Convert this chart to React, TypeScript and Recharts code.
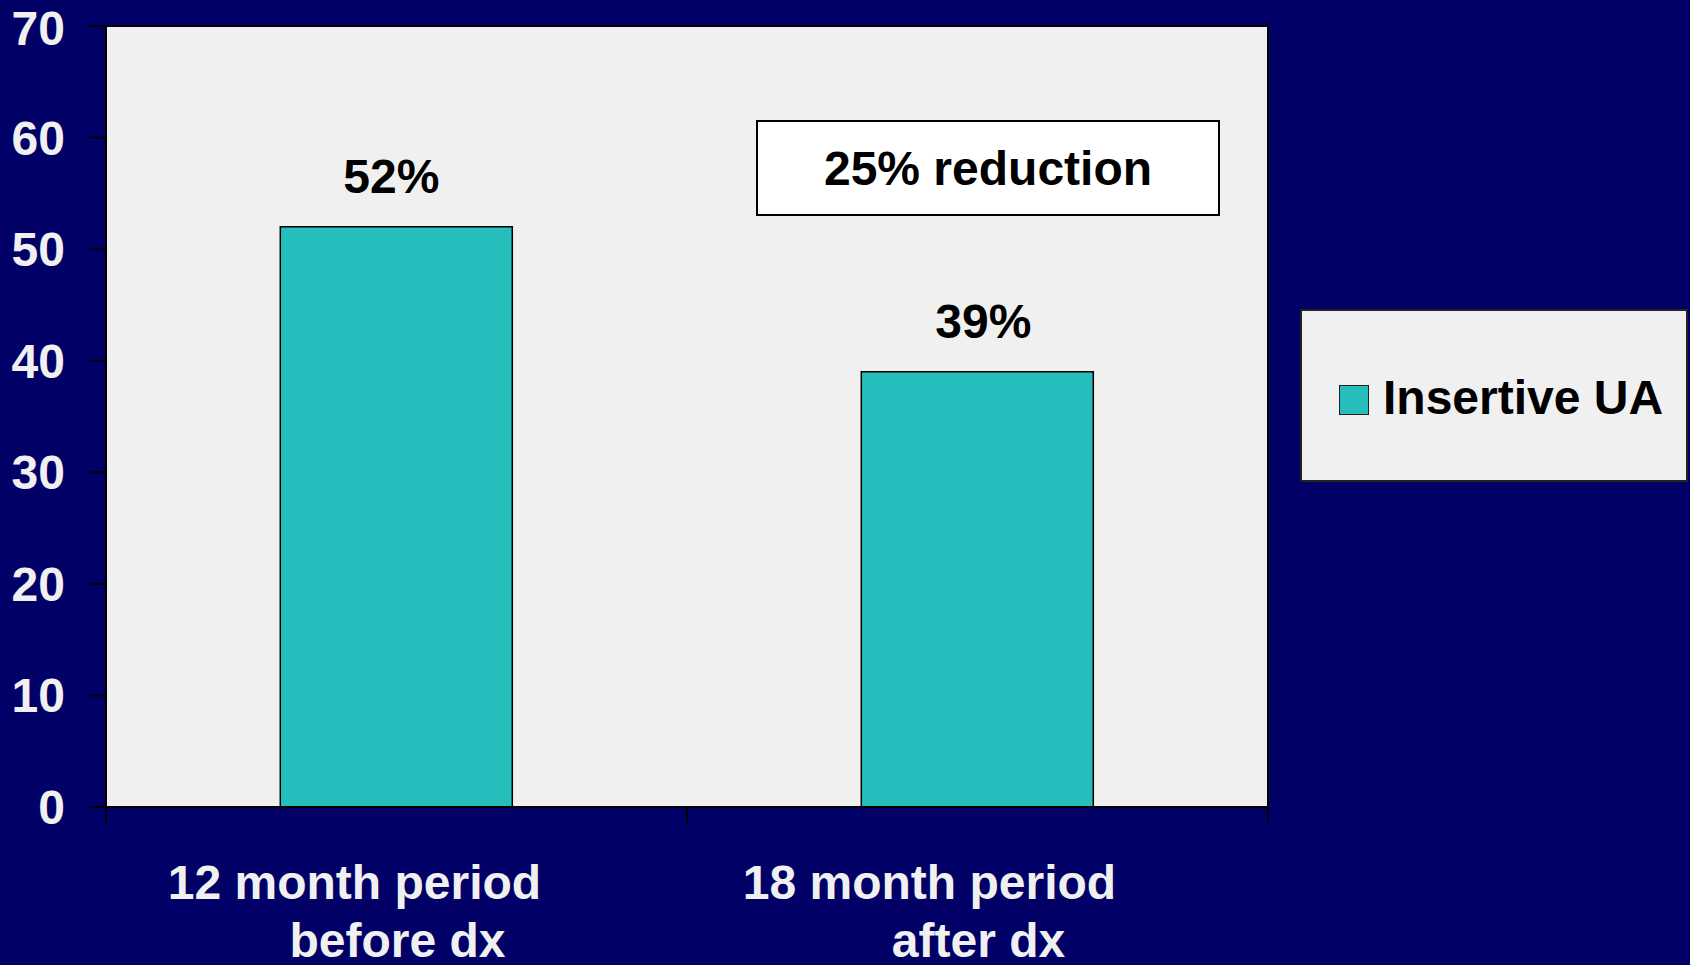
import { BarChart, Bar, XAxis, YAxis, CartesianGrid, ReferenceArea, LabelList, Legend } from 'recharts'

const periodTop = ['12 month period', '18 month period']
const periodBottom = ['before dx', 'after dx']
const insertiveUA = [52, 39]
const yTicks = [0, 10, 20, 30, 40, 50, 60, 70]
const seriesName = 'Insertive UA'
const noteText = '25% reduction'

const NAVY = '#000066'
const TEAL = '#26bdbd'
const PANEL = '#f0f0f0'
const FONT = '"Liberation Sans", Arial, Helvetica, sans-serif'

const data = periodTop.map((p, i) => ({
  period: p,
  second: periodBottom[i],
  value: insertiveUA[i],
}))

// first line of each category label sits a bit left of the band centre in the original
const firstLineShift = [-42, -48]
const barLabelShift = [-5, 6]

const PeriodTick = (props: any) => {
  const { x, y, payload, index } = props
  const half = payload?.offset ?? 290.5
  const last = index === data.length - 1
  return (
    <g>
      <line x1={x - half} y1={y} x2={x - half} y2={y + 16} stroke="#000" strokeWidth={2} />
      {last && <line x1={x + half} y1={y} x2={x + half} y2={y + 16} stroke="#000" strokeWidth={2} />}
      <text x={x + firstLineShift[index]} y={y + 92} textAnchor="middle" fill={PANEL} fontSize={48} fontWeight="bold" fontFamily={FONT}>
        {payload.value}
      </text>
      <text x={x + 1} y={y + 150} textAnchor="middle" fill={PANEL} fontSize={48} fontWeight="bold" fontFamily={FONT}>
        {periodBottom[index]}
      </text>
    </g>
  )
}

const BarValueLabel = (props: any) => {
  const { x, y, width, value, index } = props
  return (
    <text
      x={x + width / 2 + (barLabelShift[index] ?? 0)}
      y={y - 34}
      textAnchor="middle"
      fill="#000"
      fontSize={48}
      fontWeight="bold"
      fontFamily={FONT}
    >
      {`${value}%`}
    </text>
  )
}

const LegendBox = () => (
  <div
    style={{
      width: 384,
      height: 169,
      background: PANEL,
      border: '2px solid #222',
      display: 'flex',
      alignItems: 'center',
      boxSizing: 'content-box',
    }}
  >
    <div
      style={{
        width: 28,
        height: 28,
        background: TEAL,
        border: '1.5px solid #222',
        marginLeft: 37,
        marginRight: 14,
        marginTop: 8,
      }}
    />
    <span style={{ fontFamily: FONT, fontWeight: 'bold', fontSize: 48, color: '#000', marginTop: 4 }}>{seriesName}</span>
  </div>
)

export default function App() {
  return (
    <div style={{ position: 'absolute', left: 0, top: 0, width: 1690, height: 965, background: NAVY, overflow: 'hidden' }}>
      <BarChart
        width={1690}
        height={965}
        data={data}
        margin={{ top: 26, right: 422, bottom: 0, left: 0 }}
        barCategoryGap="30%"
      >
        <CartesianGrid fill={PANEL} horizontal={false} vertical={false} />
        <ReferenceArea y1={0} y2={70} fill="none" stroke="#000" strokeWidth={2} ifOverflow="visible" />
        <YAxis
          domain={[0, 70]}
          ticks={yTicks}
          width={106}
          tickSize={17}
          tickMargin={24}
          axisLine={{ stroke: '#000', strokeWidth: 2 }}
          tickLine={{ stroke: '#000', strokeWidth: 2 }}
          tick={{ fill: PANEL, fontSize: 48, fontWeight: 'bold', fontFamily: FONT }}
        />
        <XAxis
          dataKey="period"
          height={158}
          interval={0}
          tickSize={0}
          tickMargin={0}
          axisLine={{ stroke: '#000', strokeWidth: 2 }}
          tickLine={false}
          tick={<PeriodTick />}
        />
        <Legend
          layout="vertical"
          verticalAlign="middle"
          align="center"
          wrapperStyle={{ left: 1300, top: 309, width: 388, height: 173 }}
          content={() => <LegendBox />}
        />
        <Bar dataKey="value" name={seriesName} fill={TEAL} stroke="#000" strokeWidth={1.5} isAnimationActive={false}>
          <LabelList dataKey="value" content={<BarValueLabel />} />
        </Bar>
      </BarChart>
      <div
        style={{
          position: 'absolute',
          left: 756,
          top: 120,
          width: 460,
          height: 92,
          background: '#fff',
          border: '2px solid #000',
          display: 'flex',
          alignItems: 'center',
          justifyContent: 'center',
          fontFamily: FONT,
          fontWeight: 'bold',
          fontSize: 48,
          color: '#000',
          boxSizing: 'content-box',
        }}
      >
        {noteText}
      </div>
    </div>
  )
}
